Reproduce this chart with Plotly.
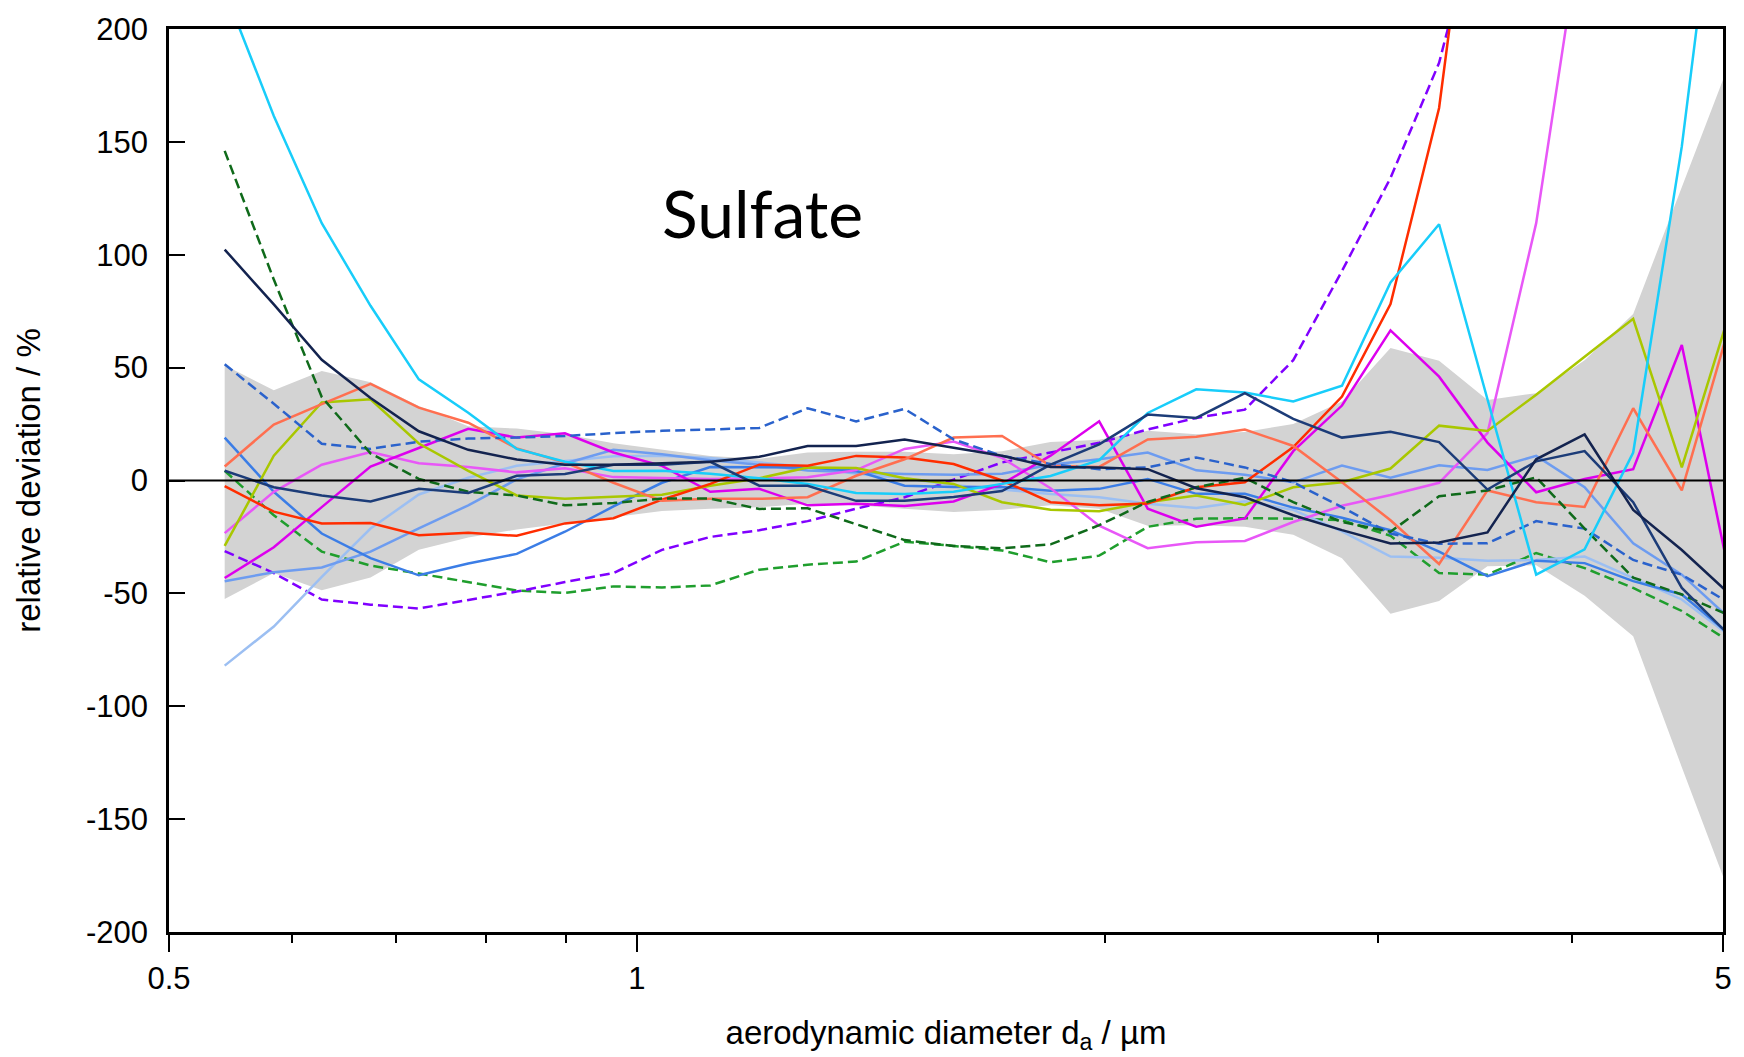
import plotly.graph_objects as go

# aerodynamic diameter grid (µm)
x_um = [0.543, 0.584, 0.627, 0.674, 0.724, 0.779, 0.837, 0.899, 0.966, 1.038, 1.115, 1.199,
        1.288, 1.384, 1.487, 1.599, 1.718, 1.846, 1.984, 2.132, 2.291, 2.462, 2.645, 2.843,
        3.055, 3.283, 3.527, 3.791, 4.073, 4.377, 4.704, 5.055]

band_upper = [51, 40, 48.5, 43.5, 33, 24, 23, 20.5, 16.5, 13.8, 10.9, 9.6, 12.4, 12.7, 12.7, 11.6,
              13, 17, 18, 22, 20.5, 21.5, 25, 35, 58.7, 53, 35.7, 38.7, 53.3, 73.8, 130, 186]
band_lower = [-52.5, -41, -48.6, -43, -30.7, -25.3, -21.7, -19, -16, -13.5, -12.5, -11.8, -10.3, -11,
              -12.5, -14, -13, -11, -12.5, -20, -19.8, -20.5, -24, -34.4, -59, -53.4, -38, -37.5,
              -51, -69, -127, -184]

cyan = [217, 161.5, 114, 77.4, 44.8, 30, 14, 8.3, 4.2, 4.3, 3, 1, -1.5, -5.5, -6, -5, -1.5, 2, 9,
        29.9, 40.4, 39, 35, 42, 87.7, 113.5, 36, -41.7, -30.5, 12.4, 148, 320]
navy1 = [102.3, 78, 53.5, 36.5, 21.8, 13.6, 9.3, 7, 7, 7.5, 8.3, 10.5, 15.3, 15.3, 18.2, 14.5, 11, 6,
         5.8, 5, -3.4, -7.4, -15.4, -22, -27.9, -27.5, -23, 9.4, 20.4, -13, -30.8, -50.6]
navy2 = [4.3, -3, -6.6, -9.3, -3.7, -5.5, 2.1, 2.9, 7, 7, 8.3, -2.3, -2.3, -9, -9, -7.3, -4.7, 7, 16,
         29.2, 27.7, 38.7, 27.3, 19, 21.6, 17, -4, 8.5, 13, -9.6, -47.6, -69]
dkgreen_dash = [146, 89, 37, 12, 0.7, -5, -6.6, -11, -10, -8, -8, -12.6, -12.3, -19.3, -26.4, -29, -30,
                -28.3, -19.8, -9.5, -3, 1.2, -9.6, -18.4, -22.7, -7, -4.4, 1.4, -21.3, -43, -50.5, -60]
blue_dash = [51.5, 34, 16.3, 14, 17.2, 18.6, 19, 19.7, 21, 22, 22.6, 23.3, 32, 26.2, 31.7, 18.2, 10.9,
             7.3, 5, 5.8, 10.2, 5.8, -0.8, -11.8, -23.5, -28, -27.8, -18, -21.3, -35.2, -41.7, -54.6]
salmon = [6.2, 24.8, 33.8, 42.8, 32.3, 25.6, 14.2, 8, -1, -9, -8.1, -8.1, -7.4, 2.1, 9.4, 19, 19.7, 6.5,
          6, 18.2, 19.4, 22.6, 15.3, -0.8, -17.6, -37, -4.4, -9.6, -11.7, 32, -4.4, 70]
red = [-2.5, -13.8, -19, -18.8, -24.2, -23.2, -24.5, -19, -16.7, -8.5, -1.5, 7, 6.5, 10.9, 10.2, 7.3, 0,
       -9.6, -11, -10.2, -3, -0.8, 14.8, 37.2, 78.2, 165, 330, None, None, None, None, None]
lime = [-29, 11, 34.6, 36, 16.4, 4.3, -6.6, -8.1, -7.2, -6.3, -2.3, 1, 5.8, 5.5, 1, -1.5, -9.6, -13,
        -13.6, -9.6, -6.6, -10.8, -3, -0.8, 5.3, 24.3, 21.9, 38, 54.8, 71.6, 5.8, 75.5]
violet = [-23.3, -5, 7, 12.6, 7.6, 6, 3.6, 5.4, 1.5, 1, 0.7, 1, 1.4, 4.6, 14, 17.3, 10, -3.4, -20, -30,
          -27.4, -26.8, -18.4, -11.2, -6.4, -1, 21, 114, 255, None, None, None]
magenta = [-43.2, -29.6, -11.8, 6.2, 14.4, 22.9, 19, 20.9, 12.4, 6.5, -5, -3.7, -11, -10.3, -11.3, -9.3,
           -1.5, 11, 26.2, -12.5, -20.5, -16.8, 13, 33.2, 66.5, 46, 16.8, -5.2, 0.7, 5, 60, -44]
blue = [19, -5, -23.5, -34.4, -42, -36.8, -32.5, -22.7, -11.5, -1, 6, 5.8, 5.8, 4.3, -2.3, -2.9, -2.9,
        -4.5, -3.7, 0.7, -5.9, -5.9, -12, -16.5, -22, -31.5, -42.4, -35.5, -36.6, -44.6, -50.5, -68.5]
cornflower = [-44.6, -40.6, -38.5, -31.5, -21.2, -11, 0.5, 7.5, 13.6, 11.6, 9, 7, 4.4, 3.6, 2.9, 2.5, 3,
              7, 9.4, 12.4, 4.5, 2.5, -0.8, 6.6, 1.2, 6.7, 4.7, 10.9, -3, -27.8, -41.7, -61.5]
lightblue = [-82, -64.7, -42.7, -21.3, -6.2, 1.2, 6.5, 8.5, 10.7, 11, 10, 8, 6, 3, 1, -2, -4, -6, -7.4,
             -10.3, -12.2, -9.2, -13, -22.5, -33.7, -34.2, -35.6, -35.2, -33.7, -43.2, -52.7, -69]
purple_dash = [-31.3, -41, -52.7, -55, -56.7, -53, -49.2, -45, -41, -30.7, -25, -22, -18, -12.5, -7.4,
               0.4, 8, 12.4, 16.7, 22.6, 27.7, 31.4, 53.3, 92.8, 134, 185, 268, None, None, None, None, None]
green_dash = [4.3, -15.4, -31.5, -37.7, -41.2, -45, -48.7, -49.8, -46.9, -47.4, -46.5, -39.5, -37.3,
              -35.9, -27.1, -29, -31, -36.2, -33.3, -20.5, -16.9, -16.7, -16.9, -17.6, -24.5, -41, -41.7,
              -32.1, -38.8, -47.6, -57.8, -71.6]

y_ticks = [-200, -150, -100, -50, 0, 50, 100, 150, 200]
y_tick_text = ["-200", "-150", "-100", "-50", "0", "50", "100", "150", "200"]
x_major = [0.5, 1, 5]
x_major_text = ["0.5", "1", "5"]
x_minor = [0.6, 0.7, 0.8, 0.9, 2, 3, 4]

series = [
    (green_dash, "#1f9e2d", "dash"),
    (purple_dash, "#8000ff", "dash"),
    (lightblue, "#9cbff2", "solid"),
    (cornflower, "#6d9cf0", "solid"),
    (blue, "#3b7de6", "solid"),
    (violet, "#e857f7", "solid"),
    (magenta, "#dd00ee", "solid"),
    (lime, "#a9c700", "solid"),
    (red, "#ff2d00", "solid"),
    (salmon, "#ff6f50", "solid"),
    (blue_dash, "#2a62cc", "dash"),
    (dkgreen_dash, "#0f6a1a", "dash"),
    (cyan, "#18cdfa", "solid"),
    (navy2, "#1c3c78", "solid"),
    (navy1, "#13234f", "solid"),
]

fig = go.Figure()
fig.add_trace(go.Scatter(x=x_um, y=band_lower, mode="lines", line=dict(width=0, color="#d3d3d3"),
                         hoverinfo="skip", showlegend=False))
fig.add_trace(go.Scatter(x=x_um, y=band_upper, mode="lines", line=dict(width=0, color="#d3d3d3"),
                         fill="tonexty", fillcolor="#d3d3d3", hoverinfo="skip", showlegend=False))
for ys, col, dash in series:
    fig.add_trace(go.Scatter(x=x_um, y=ys, mode="lines",
                             line=dict(color=col, width=2.5, dash="10px,5px" if dash == "dash" else "solid"),
                             connectgaps=False, showlegend=False))

fig.add_shape(type="line", xref="paper", x0=0, x1=1, yref="y", y0=0, y1=0,
              line=dict(color="black", width=2), layer="above")

fig.add_annotation(text="Sulfate", xref="paper", yref="paper", x=0.3817, y=0.797,
                   xanchor="center", yanchor="middle",
                   showarrow=False, font=dict(family="Lato", size=66, color="black"))

tick_font = dict(family="Liberation Sans", size=31, color="black")
title_font = dict(family="Liberation Sans", size=33, color="black")
fig.update_layout(
    width=1744, height=1057,
    margin=dict(l=169, r=16, t=22, b=123),
    plot_bgcolor="white", paper_bgcolor="white",
    showlegend=False,
    xaxis=dict(type="log", range=[-0.30103, 0.69897], tickmode="array", tickvals=x_major,
               ticktext=x_major_text, ticks="outside", ticklen=17, tickwidth=1.5, tickcolor="black",
               showline=True, linecolor="black", linewidth=2.5, mirror=True, showgrid=False,
               zeroline=False, tickfont=tick_font,
               minor=dict(tickmode="array", tickvals=x_minor, ticks="outside", ticklen=8,
                          tickwidth=1.5, tickcolor="black", showgrid=False),
               title=dict(text="aerodynamic diameter d<sub>a</sub> / µm", font=title_font, standoff=26)),
    yaxis=dict(range=[-200, 200], tickmode="array", tickvals=y_ticks, ticktext=y_tick_text,
               ticks="inside", ticklen=16,
               tickwidth=1.5, tickcolor="black", showline=True, linecolor="black", linewidth=2.5,
               mirror=True, showgrid=False, zeroline=False, tickfont=tick_font, ticklabelstandoff=12,
               title=dict(text="relative deviation / %", font=title_font, standoff=36)),
)

fig.write_html("out.html")
